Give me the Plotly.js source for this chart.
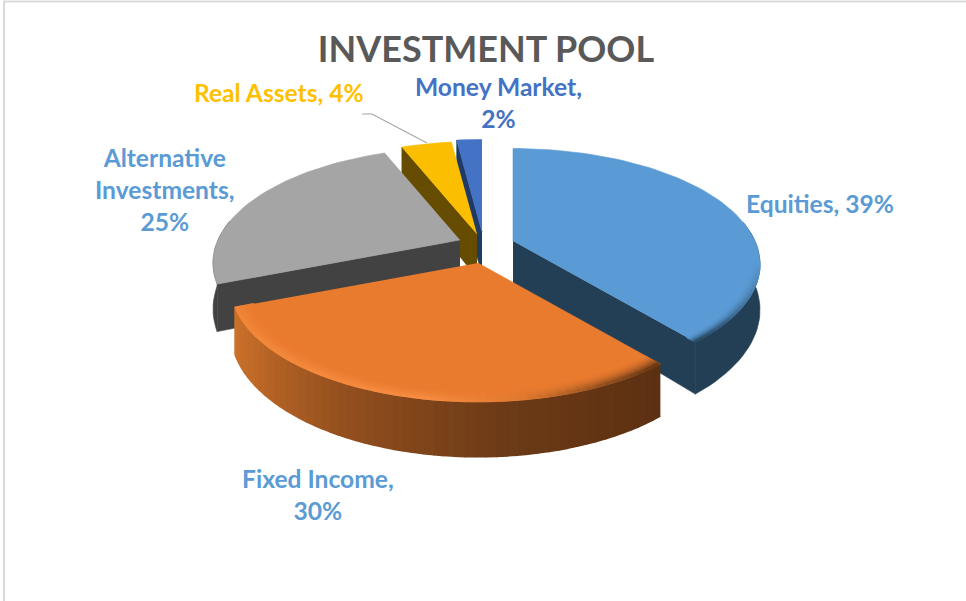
<!DOCTYPE html>
<html>
<head>
<meta charset="utf-8">
<script src="https://cdn.plot.ly/plotly-3.0.1.min.js"></script>
<style>html,body{margin:0;padding:0;background:#fff}#chart{width:966px;height:601px}</style>
</head>
<body>
<div id="chart"></div>
<script>
// ---- data ----
const categories = ["Equities", "Fixed Income", "Alternative Investments", "Real Assets", "Money Market"];
const shares = [39, 30, 25, 4, 2];
const chartTitle = "INVESTMENT POOL";

// ---- look of each slice ----
const faceColors = ["#5B9BD5", "#E97B2F", "#A5A5A5", "#FBBE00", "#4472C4"];
const wallColors = ["#223F55", "#5E3214", "#424242", "#664C00", "#1F3A64"];
const apexX = [513, 478, 460, 477, 482];
const apexY = [241, 263, 240, 234, 232];
const drawOrder = [4, 3, 2, 0, 1];

// ---- projection of the tilted disc onto the axes ----
const RX = 242, RY = 111, PERSP = 0.2, DEPTH = 44, STEP = 2;
const rad = d => d * Math.PI / 180;
function project(i, t, r, down) {
  const u = Math.sin(rad(t)) * r, v = Math.cos(rad(t)) * r, w = 1 + PERSP * v;
  return [apexX[i] + RX * u / w, apexY[i] - RY * v / w + (down ? DEPTH / w : 0)];
}
function polygon(points, color, name, seam) {
  return {
    type: "scatter", mode: "lines", fill: "toself", fillcolor: color,
    x: points.map(p => p[0]), y: points.map(p => p[1]),
    line: {color: color, width: seam || 0.6}, hoverinfo: "skip", showlegend: false, name: name
  };
}
function mix(a, b, f) { return a.map((c, k) => c + (b[k] - c) * f); }
function rgb(c) { return "rgb(" + c.map(Math.round).join(",") + ")"; }
function ramp(stops, t) {
  if (t <= stops[0][0]) return stops[0][1];
  for (let k = 1; k < stops.length; k++) {
    if (t <= stops[k][0]) return mix(stops[k - 1][1], stops[k][1], (t - stops[k - 1][0]) / (stops[k][0] - stops[k - 1][0]));
  }
  return stops[stops.length - 1][1];
}
function hex(h) { return [1, 3, 5].map(k => parseInt(h.substr(k, 2), 16)); }

const fixedWallRamp = [[140, [92, 48, 18]], [175, [108, 58, 22]], [205, [145, 78, 30]], [235, [192, 106, 40]], [250, [205, 114, 42]]];
const fixedBevelRamp = [[140, [100, 54, 22]], [155, [150, 82, 32]], [172, [225, 122, 48]], [190, [246, 140, 66]], [250, [240, 134, 56]]];
const equityBevelRamp = [[100, [91, 155, 213]], [120, [70, 120, 165]], [141, [40, 72, 98]]];
const wallRamps = {1: fixedWallRamp};
const bevelRamps = {0: equityBevelRamp, 1: fixedBevelRamp};
const bevelWidth = {0: 0.04, 1: 0.07};
const bevelRings = 7;

function arcSteps(a, b) {
  const list = [];
  for (let t = a; t < b; t += STEP) list.push(t);
  list.push(b);
  return list;
}

// ---- build the slices from the values ----
const total = shares.reduce((s, v) => s + v, 0);
const starts = [];
shares.reduce((acc, v, i) => { starts[i] = acc; return acc + v / total * 360; }, 0);

const traces = [];
drawOrder.forEach(i => {
  const t0 = starts[i], t1 = t0 + shares[i] / total * 360, name = categories[i];
  // outer rim seen from the front
  const rimA = Math.max(t0, 80), rimB = Math.min(t1, 280);
  if (rimB > rimA) {
    const steps = arcSteps(rimA, rimB);
    if (wallRamps[i]) {
      for (let k = 0; k + 1 < steps.length; k++) {
        const a = steps[k], b = steps[k + 1];
        const color = rgb(ramp(wallRamps[i], (a + b) / 2));
        traces.push(polygon([project(i, a, 1, false), project(i, b, 1, false), project(i, b, 1, true), project(i, a, 1, true)], color, name, 1.6));
      }
    } else {
      const outline = steps.map(t => project(i, t, 1, false)).concat(steps.slice().reverse().map(t => project(i, t, 1, true)));
      traces.push(polygon(outline, wallColors[i], name));
    }
  }
  // radial cut faces that turn towards the viewer
  [[t0, Math.sin(rad(t0)) < -1e-6], [t1, Math.sin(rad(t1)) > 1e-6]].forEach(edge => {
    if (edge[1]) {
      traces.push(polygon([project(i, edge[0], 0, false), project(i, edge[0], 1, false), project(i, edge[0], 1, true), project(i, edge[0], 0, true)], wallColors[i], name));
    }
  });
  // top face
  const top = [project(i, t0, 0, false)];
  arcSteps(t0, t1).forEach(t => top.push(project(i, t, 1, false)));
  traces.push(polygon(top, faceColors[i], name));
  // soft bevel along the front edge
  if (bevelRamps[i]) {
    const steps = arcSteps(Math.max(t0, 100), t1);
    for (let n = 0; n < bevelRings; n++) {
      const r0 = 1 - bevelWidth[i] * (1 - n / bevelRings);
      const r1 = 1 - bevelWidth[i] * (1 - (n + 1) / bevelRings);
      const f = (n + 1) / bevelRings;
      for (let k = 0; k + 1 < steps.length; k++) {
        const a = steps[k], b = steps[k + 1];
        const color = rgb(mix(hex(faceColors[i]), ramp(bevelRamps[i], (a + b) / 2), f * f));
        traces.push(polygon([project(i, a, r0, false), project(i, b, r0, false), project(i, b, r1, false), project(i, a, r1, false)], color, name, 1.2));
      }
    }
  }
});

// leader line of the Real Assets label
const leaderX = [362, 372, 427];
const leaderY = [114, 114, 143];
traces.push({type: "scatter", mode: "lines", x: leaderX, y: leaderY, line: {color: "#A6A6A6", width: 1.2}, hoverinfo: "skip", showlegend: false});

// ---- labels ----
const labelText = [
  categories[0] + ", " + shares[0] + "%",
  categories[1] + ",<br>" + shares[1] + "%",
  "Alternative<br>Investments,<br>" + shares[2] + "%",
  categories[3] + ", " + shares[3] + "%",
  categories[4] + ",<br>" + shares[4] + "%"
];
const labelColors = ["#5B9BD5", "#5B9BD5", "#5B9BD5", "#FFC000", "#4472C4"];
const labelX = [820, 318, 165, 279, 498];
const labelY = [203, 494, 189, 92, 102];

const annotations = labelText.map((text, i) => ({
  text: text, x: labelX[i], y: labelY[i], xref: "x", yref: "y",
  xanchor: "center", yanchor: "middle", showarrow: false, align: "center",
  font: {family: "Lato, sans-serif", size: 24.6, color: labelColors[i], weight: 700}
}));

const layout = {
  width: 966, height: 601,
  margin: {l: 0, r: 0, t: 0, b: 0},
  paper_bgcolor: "#ffffff", plot_bgcolor: "#ffffff",
  showlegend: false,
  title: {
    text: chartTitle, x: 486 / 966, xanchor: "center", xref: "paper",
    y: 1 - 49 / 601, yanchor: "middle", yref: "paper",
    font: {family: "Lato, sans-serif", size: 36, color: "#595959", weight: 700}
  },
  xaxis: {range: [0, 966], visible: false, fixedrange: true},
  yaxis: {range: [601, 0], visible: false, fixedrange: true},
  annotations: annotations,
  shapes: [
    {type: "line", xref: "x", yref: "y", x0: 4, x1: 4, y0: 1, y1: 601, line: {color: "#D9D9D9", width: 2}},
    {type: "line", xref: "x", yref: "y", x0: 3, x1: 966, y0: 1.5, y1: 1.5, line: {color: "#D9D9D9", width: 2}}
  ]
};

Plotly.newPlot("chart", traces, layout, {displayModeBar: false, staticPlot: true});
</script>
</body>
</html>
